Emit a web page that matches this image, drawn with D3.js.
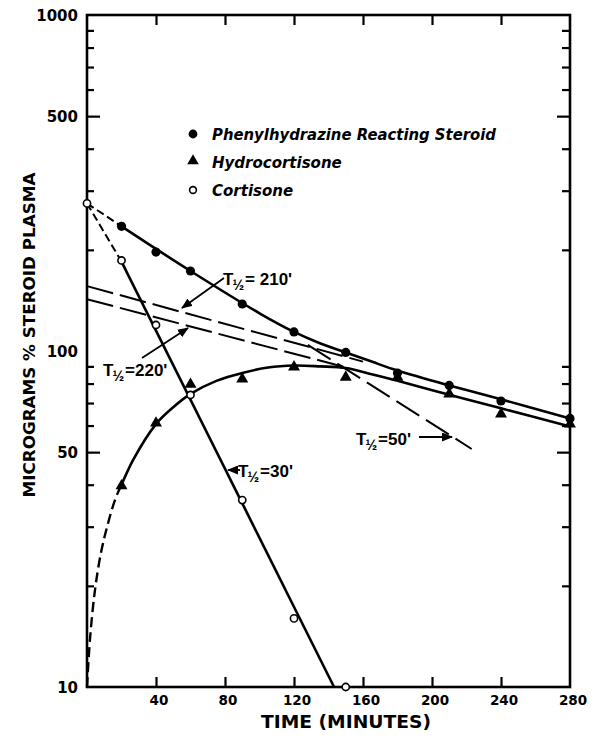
<!DOCTYPE html>
<html><head><meta charset="utf-8">
<script src="https://cdn.jsdelivr.net/npm/d3@7"></script>
<style>body{margin:0;background:#fff}</style>
</head><body>
<svg id="c" width="597" height="740" xmlns="http://www.w3.org/2000/svg"></svg>
<script>
// ---- data (minutes, micrograms %) ----
const phenylT = [20, 40, 60, 90, 120, 150, 180, 210, 240, 280];
const phenylV = [235, 197, 173, 138, 114, 99, 86, 79, 71, 63];
const hydroT  = [20, 40, 60, 90, 120, 150, 180, 210, 240, 280];
const hydroV  = [39.4, 60.6, 79, 82, 89, 83, 83, 74, 64.5, 60.2];
const cortT   = [0, 20, 40, 60, 90, 120, 150];
const cortV   = [275, 186, 119.5, 74, 36, 16, 10];

// fitted curves / lines
const phenylDashT = [0, 20];          const phenylDashV = [275, 235];
const phenylCurveT = [20, 60, 100, 120, 135, 150, 165, 180, 210, 240, 280];
const phenylCurveV = [235, 173, 129.5, 114, 105.5, 99, 93, 87.5, 79, 71.8, 63];
const fit50T = [128, 223];            const fit50V = [104.3, 51.1];
const fit210T = [0, 160];             const fit210V = [156, 93];
const fit220T = [0, 150];             const fit220V = [142.6, 89.4];
const cortDashT = [0, 20];            const cortDashV = [275, 184.6];
const cortLineT = [20, 143.2];        const cortLineV = [184.6, 10];
// hydrocortisone fitted curve: dashed before 20 min, solid after
const hydroCurveT = [0, 1.7, 4.6, 8.1, 11.6, 16.2, 20, 27, 40, 50, 60, 75, 90, 105, 120, 135, 150, 165, 180, 210, 240, 280];
const hydroCurveV = [10, 13.8, 19.4, 25.1, 29.9, 36, 40, 47.7, 60.6, 68, 74.5, 81.5, 86, 89.3, 90.5, 90, 89, 85.3, 81.5, 74.1, 67.5, 59.6];
const hydroDashEnd = 20;

const xTicks = [40, 80, 120, 160, 200, 240, 280];
const yLabels = [10, 50, 100, 500, 1000];
const legendItems = ["Phenylhydrazine Reacting Steroid", "Hydrocortisone", "Cortisone"];
const yTitle = "MICROGRAMS % STEROID PLASMA";
const xTitle = "TIME (MINUTES)";

// ---- drawing ----
const svg = d3.select('#c');
const x = d3.scaleLinear().domain([0, 280]).range([87, 570]);
const y = d3.scaleLog().domain([10, 1000]).range([687, 15]);
const zip = (a, b) => a.map((t, i) => [t, b[i]]);

const defs = svg.append('defs');
defs.append('marker').attr('id', 'ah').attr('markerUnits', 'userSpaceOnUse')
  .attr('markerWidth', 11).attr('markerHeight', 9).attr('refX', 10).attr('refY', 4.5)
  .attr('orient', 'auto')
  .append('path').attr('d', 'M0,0 L11,4.5 L0,9 Z').attr('fill', '#000');
defs.append('clipPath').attr('id', 'clipA').append('rect')
  .attr('x', 0).attr('y', 0).attr('width', x(hydroDashEnd)).attr('height', 740);
defs.append('clipPath').attr('id', 'clipB').append('rect')
  .attr('x', x(hydroDashEnd)).attr('y', 0).attr('width', 597 - x(hydroDashEnd)).attr('height', 740);

// minor / major y ticks
const minor = [];
[10, 100].forEach(dec => { for (let k = 2; k <= 9; k++) if (k !== 5) minor.push(k * dec); });
const axStyle = g => { g.select('.domain').remove(); g.selectAll('line').attr('stroke', '#000').attr('stroke-width', 2.2); g.selectAll('text').remove(); };

svg.append('g').attr('transform', 'translate(87,0)').call(d3.axisRight(y).tickValues(minor).tickSize(7).tickFormat('')).call(axStyle);
svg.append('g').attr('transform', 'translate(87,0)').call(d3.axisRight(y).tickValues([50, 500]).tickSize(13).tickFormat('')).call(axStyle);
svg.append('g').attr('transform', 'translate(570,0)').call(d3.axisLeft(y).tickValues(minor).tickSize(8).tickFormat('')).call(axStyle);
svg.append('g').attr('transform', 'translate(570,0)').call(d3.axisLeft(y).tickValues([50, 500]).tickSize(13).tickFormat('')).call(axStyle);
svg.append('g').attr('transform', 'translate(0,687)').call(d3.axisTop(x).tickValues(xTicks.slice(0, -1)).tickSize(10).tickFormat('')).call(axStyle);
svg.append('g').attr('transform', 'translate(0,15)').call(d3.axisBottom(x).tickValues(xTicks.slice(0, -1)).tickSize(10).tickFormat('')).call(axStyle);

// frame
svg.append('rect').attr('x', x(0)).attr('y', y(1000)).attr('width', x(280) - x(0)).attr('height', y(10) - y(1000))
  .attr('fill', 'none').attr('stroke', '#000').attr('stroke-width', 2.6);

// tick labels
const lblFont = "'DejaVu Sans', sans-serif";
svg.append('g').selectAll('text').data(yLabels).join('text')
  .attr('x', 78).attr('y', d => y(d) + 6).attr('text-anchor', 'end')
  .attr('font-family', lblFont).attr('font-weight', 'bold').attr('font-size', 15).text(d => d);
svg.append('g').selectAll('text').data(xTicks).join('text')
  .attr('x', d => x(d) + 3).attr('y', 704.5).attr('text-anchor', 'middle')
  .attr('font-family', lblFont).attr('font-weight', 'bold').attr('font-size', 13.5).text(d => d);

// titles
svg.append('text').attr('transform', 'translate(35,335) rotate(-90)').attr('text-anchor', 'middle')
  .attr('font-family', lblFont).attr('font-weight', 'bold').attr('font-size', 16)
  .attr('textLength', 325).attr('lengthAdjust', 'spacingAndGlyphs').text(yTitle);
svg.append('text').attr('x', 346).attr('y', 728).attr('text-anchor', 'middle')
  .attr('font-family', lblFont).attr('font-weight', 'bold').attr('font-size', 17)
  .attr('textLength', 170).attr('lengthAdjust', 'spacingAndGlyphs').text(xTitle);

// lines
const lineS = d3.line().x(d => x(d[0])).y(d => y(d[1]));
const lineC = d3.line().x(d => x(d[0])).y(d => y(d[1])).curve(d3.curveCatmullRom.alpha(0.5));
const drawPath = (data, gen, w, dash, clip) => svg.append('path').attr('d', gen(data)).attr('fill', 'none')
  .attr('stroke', '#000').attr('stroke-width', w).attr('stroke-dasharray', dash || null)
  .attr('stroke-linejoin', 'round').attr('clip-path', clip ? `url(#${clip})` : null);

drawPath(zip(fit210T, fit210V), lineS, 2, '27,7');
drawPath(zip(fit220T, fit220V), lineS, 2, '27,7');
drawPath(zip(fit50T, fit50V), lineS, 2, '27,8');
drawPath(zip(phenylDashT, phenylDashV), lineS, 2, '8,4');
drawPath(zip(cortDashT, cortDashV), lineS, 2, '8,4');
drawPath(zip(hydroCurveT, hydroCurveV), lineC, 2.4, '10,5', 'clipA');
drawPath(zip(hydroCurveT, hydroCurveV), lineC, 2.6, null, 'clipB');
drawPath(zip(phenylCurveT, phenylCurveV), lineC, 2.6);
drawPath(zip(cortLineT, cortLineV), lineS, 2.6);

// markers
svg.append('g').selectAll('path').data(zip(hydroT, hydroV)).join('path')
  .attr('transform', d => `translate(${x(d[0])},${y(d[1]) - 1})`)
  .attr('d', d3.symbol().type(d3.symbolTriangle).size(62)).attr('fill', '#000');
svg.append('g').selectAll('circle').data(zip(phenylT, phenylV)).join('circle')
  .attr('cx', d => x(d[0])).attr('cy', d => y(d[1])).attr('r', 4.6).attr('fill', '#000');
svg.append('g').selectAll('circle').data(zip(cortT, cortV)).join('circle')
  .attr('cx', d => x(d[0])).attr('cy', d => y(d[1])).attr('r', 3.6)
  .attr('fill', '#fff').attr('stroke', '#000').attr('stroke-width', 1.6);

// legend
const lg = svg.append('g');
const legY = [134, 162, 190];
lg.append('circle').attr('cx', 193).attr('cy', legY[0]).attr('r', 4.4).attr('fill', '#000');
lg.append('path').attr('transform', `translate(193,${legY[1] - 1})`).attr('d', d3.symbol().type(d3.symbolTriangle).size(58)).attr('fill', '#000');
lg.append('circle').attr('cx', 193).attr('cy', legY[2]).attr('r', 3.4).attr('fill', '#fff').attr('stroke', '#000').attr('stroke-width', 1.6);
legendItems.forEach((t, i) => {
  const tx = lg.append('text').attr('x', 212).attr('y', legY[i] + 5.5)
    .attr('font-family', lblFont).attr('font-weight', 'bold').attr('font-style', 'italic')
    .attr('font-size', 15).text(t);
  if (i === 0) tx.attr('textLength', 284).attr('lengthAdjust', 'spacingAndGlyphs');
});

// half-life annotations
const annFont = "'Liberation Sans', Arial, sans-serif";
function halfLife(xT, yB, rest) {
  const t = svg.append('text').attr('x', xT).attr('y', yB).attr('font-family', annFont)
    .attr('font-weight', 'bold').attr('font-size', 17);
  t.append('tspan').text('T');
  t.append('tspan').attr('font-size', 14).attr('dy', 5).attr('dx', -1).text('½');
  t.append('tspan').attr('dy', -5).attr('dx', 1).text(rest);
}
function arrow(x1, y1, x2, y2) {
  svg.append('line').attr('x1', x1).attr('y1', y1).attr('x2', x2).attr('y2', y2)
    .attr('stroke', '#000').attr('stroke-width', 1.8).attr('marker-end', 'url(#ah)');
}
halfLife(223, 285, "= 210'");
arrow(224, 278, 182, 308);
halfLife(103, 376, "=220'");
arrow(142, 358, 188, 328);
halfLife(356, 445, "=50'");
arrow(419, 437, 452, 437);
halfLife(238, 477, "=30'");
arrow(240, 470, 228, 470);
</script>
</body></html>
